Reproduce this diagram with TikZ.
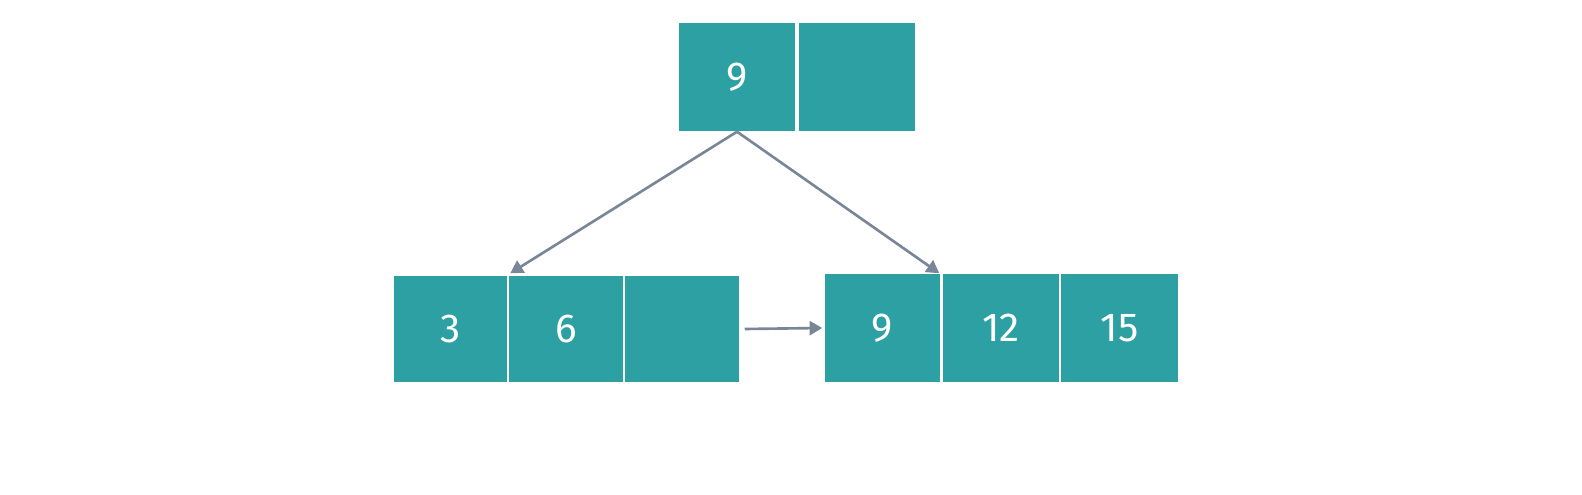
\documentclass[tikz,border=0pt]{standalone}
\usepackage{fontspec}
\setmainfont{Fira Sans}
\usetikzlibrary{arrows.meta}
\definecolor{cellTeal}{RGB}{45, 160, 164}
\definecolor{linkGray}{RGB}{120, 134, 152}
\tikzset{
  cell/.style={fill=cellTeal, text=white, inner sep=0pt, minimum width=1.15cm, minimum height=1.07cm, font=\fontsize{11.5}{14}\selectfont},
  link/.style={draw=linkGray, line width=0.75pt, -{Triangle[length=3.6pt,width=4pt]}}
}
\begin{document}%
\begin{tikzpicture}[x=0.01cm, y=-0.01cm]
                \useasboundingbox (0,0) rectangle (1582,495);
                % root
                \node[cell, minimum width=1.16cm, minimum height=1.08cm] (root1) at (737,77) {9};
                \node[cell, minimum width=1.16cm, minimum height=1.08cm] (root2) at (857,77) {};
                % left leaf
                \node[cell, minimum width=1.13cm, minimum height=1.06cm] (left1) at (450.5,329) {3};
                \node[cell, minimum width=1.14cm, minimum height=1.06cm] (left2) at (566,329) {6};
                \node[cell, minimum width=1.14cm, minimum height=1.06cm] (left3) at (682,329) {};
                % right leaf
                \node[cell, minimum width=1.15cm, minimum height=1.08cm] (right1) at (882.5,328) {9};
                \node[cell, minimum width=1.16cm, minimum height=1.08cm] (right2) at (1001,328) {12};
                \node[cell, minimum width=1.17cm, minimum height=1.08cm] (right3) at (1119.5,328) {15};
                \draw[link] (root1.south) -- ([xshift=0.02cm,yshift=0.02cm]left2.north west);
                \draw[link] (root1.south) -- ([xshift=-0.03cm]right2.north west);
                \draw[link] ([xshift=0.05cm]left3.east) -- ([xshift=-0.02cm]right1.west);
            \end{tikzpicture}%
\end{document}
